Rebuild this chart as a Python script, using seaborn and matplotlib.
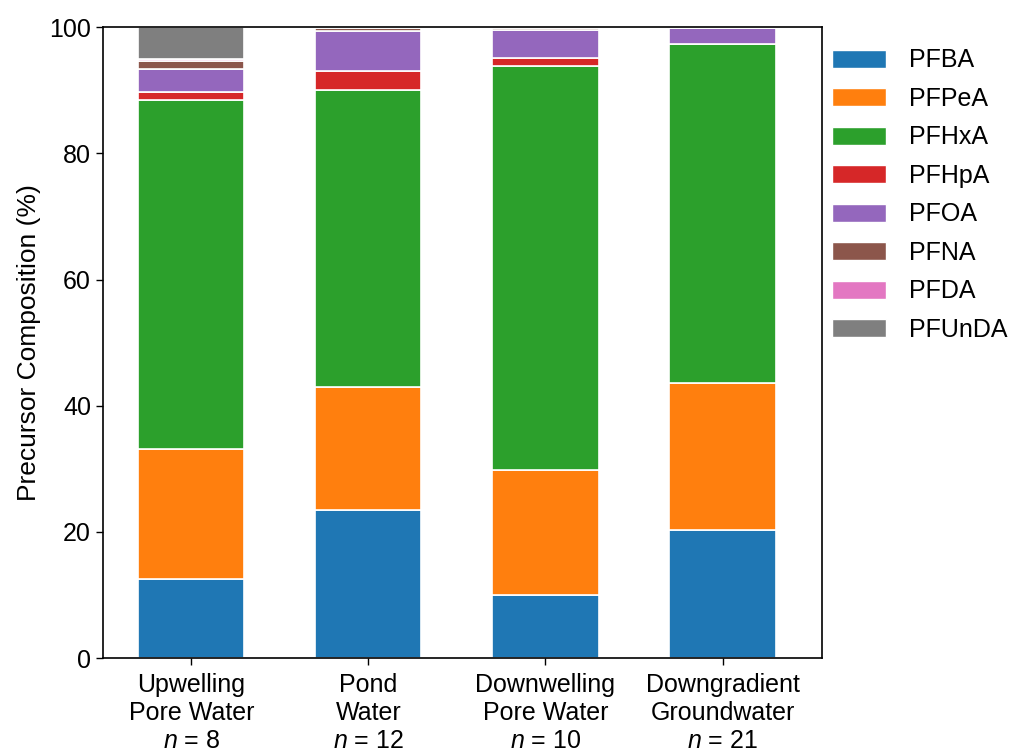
import matplotlib
matplotlib.use("Agg")
import matplotlib.pyplot as plt
import matplotlib.patches as mpatches
import numpy as np
import seaborn as sns

sns.set_style("ticks")
plt.rcParams["font.family"] = ["Liberation Sans", "DejaVu Sans"]
plt.rcParams["mathtext.fontset"] = "custom"
plt.rcParams["mathtext.rm"] = "Liberation Sans"
plt.rcParams["mathtext.it"] = "Liberation Sans:italic"
plt.rcParams["text.color"] = "black"
plt.rcParams["axes.labelcolor"] = "black"

sites = ["Upwelling\nPore Water\n$n$ = 8",
         "Pond\nWater\n$n$ = 12",
         "Downwelling\nPore Water\n$n$ = 10",
         "Downgradient\nGroundwater\n$n$ = 21"]

compounds = ["PFBA", "PFPeA", "PFHxA", "PFHpA", "PFOA", "PFNA", "PFDA", "PFUnDA"]

pfba = [12.6, 23.5, 10.0, 20.3]
pfpea = [20.6, 19.5, 19.8, 23.3]
pfhxa = [55.3, 47.0, 64.0, 53.7]
pfhpa = [1.2, 3.0, 1.3, 0.1]
pfoa = [3.7, 6.4, 4.5, 2.4]
pfna = [1.3, 0.5, 0.3, 0.1]
pfda = [0.3, 0.1, 0.1, 0.1]
pfunda = [5.0, 0.0, 0.0, 0.0]

series = [pfba, pfpea, pfhxa, pfhpa, pfoa, pfna, pfda, pfunda]
colors = sns.color_palette("tab10", 8)

fig, ax = plt.subplots(figsize=(10.17, 7.53), dpi=100)
fig.subplots_adjust(left=0.101, right=0.808, top=0.964, bottom=0.126)

bottom = np.zeros(len(sites))
for vals, col in zip(series, colors):
    sns.barplot(x=sites, y=vals, bottom=bottom, color=col, width=0.6,
                saturation=1, edgecolor="white", linewidth=1.2, ax=ax,
                errorbar=None)
    bottom = bottom + np.array(vals)

ax.set_ylim(0, 100)
ax.set_xlim(-0.5, 3.56)
ax.set_yticks([0, 20, 40, 60, 80, 100])
ax.set_ylabel("Precursor Composition (%)", fontsize=19, labelpad=6)
ax.tick_params(axis="both", labelsize=18, length=5, width=1, colors="black")
ax.tick_params(axis="x", pad=6)
for lbl in ax.get_xticklabels():
    lbl.set_linespacing(1.2)
for sp in ax.spines.values():
    sp.set_visible(True)
    sp.set_color("black")
    sp.set_linewidth(1.2)

handles = [mpatches.Patch(facecolor=c, edgecolor="white", label=n)
           for n, c in zip(compounds, colors)]
ax.legend(handles=handles, loc="upper left", bbox_to_anchor=(1.0, 0.982),
          frameon=False, fontsize=18, handlelength=2.16, handleheight=0.72,
          labelspacing=0.58, borderaxespad=0.0, handletextpad=0.92)

fig.savefig("out.png", dpi=100)
